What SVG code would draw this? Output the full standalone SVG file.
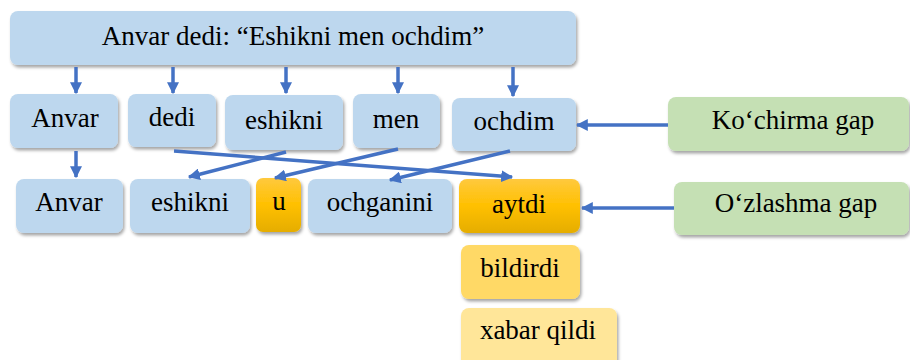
<svg xmlns="http://www.w3.org/2000/svg" width="910" height="360" viewBox="0 0 910 360" font-family="Liberation Serif, serif">
<style>
svg text, g text, text{font-family:"Liberation Serif","Times New Roman",serif !important;font-size:27px;text-anchor:middle;fill:#000}
.b{fill:#BDD7EE}
.g{fill:#C5E0B4}
.o{fill:url(#og)}
.y1{fill:#FFD966}
.y2{fill:#FFE699}
.n rect{filter:url(#sh)}
#connectors line{stroke:#4472C4;stroke-width:3.5;fill:none;marker-end:url(#ah)}
</style>
<defs>
<filter id="sh" x="-10%" y="-10%" width="130%" height="140%">
<feDropShadow dx="1.5" dy="2.5" stdDeviation="1.5" flood-color="#000" flood-opacity="0.35"/>
</filter>
<linearGradient id="og" x1="0" y1="0" x2="0" y2="1">
<stop offset="0" stop-color="#FFC93E"/>
<stop offset="0.5" stop-color="#FFC000"/>
<stop offset="1" stop-color="#E5AD00"/>
</linearGradient>
<marker id="ah" viewBox="0 0 10 10" refX="9" refY="5" markerWidth="12" markerHeight="12" markerUnits="userSpaceOnUse" orient="auto">
<path d="M0,0 L10,5 L0,10 z" fill="#4472C4"/>
</marker>
</defs>

<g class="n" id="top"><rect class="b" x="10" y="11" width="566" height="54" rx="8"/><text x="293" y="45" font-family="Liberation Serif, serif">Anvar dedi: “Eshikni men ochdim”</text></g>
<g class="n" id="r2-anvar"><rect class="b" x="10" y="94" width="108" height="54" rx="8"/><text x="65" y="127" font-family="Liberation Serif, serif">Anvar</text></g>
<g class="n" id="r2-dedi"><rect class="b" x="128" y="94" width="88" height="53" rx="8"/><text x="172" y="126" font-family="Liberation Serif, serif">dedi</text></g>
<g class="n" id="r2-eshikni"><rect class="b" x="225" y="95" width="118" height="55" rx="8"/><text x="284" y="129" font-family="Liberation Serif, serif">eshikni</text></g>
<g class="n" id="r2-men"><rect class="b" x="353" y="94" width="87" height="54" rx="8"/><text x="396" y="128" font-family="Liberation Serif, serif">men</text></g>
<g class="n" id="r2-ochdim"><rect class="b" x="452" y="98" width="124" height="53" rx="8"/><text x="514" y="130" font-family="Liberation Serif, serif">ochdim</text></g>
<g class="n" id="r3-anvar"><rect class="b" x="16" y="179" width="107" height="54" rx="8"/><text x="69" y="211" font-family="Liberation Serif, serif">Anvar</text></g>
<g class="n" id="r3-eshikni"><rect class="b" x="130" y="179" width="120" height="54" rx="8"/><text x="190" y="211" font-family="Liberation Serif, serif">eshikni</text></g>
<g class="n" id="r3-u"><rect class="o" x="256" y="178" width="45" height="54" rx="7"/><text x="279" y="210" font-family="Liberation Serif, serif">u</text></g>
<g class="n" id="r3-ochganini"><rect class="b" x="308" y="179" width="144" height="54" rx="8"/><text x="380" y="211" font-family="Liberation Serif, serif">ochganini</text></g>
<g class="n" id="r3-aytdi"><rect class="o" x="459" y="179" width="121" height="54" rx="8"/><text x="519" y="213" font-family="Liberation Serif, serif">aytdi</text></g>
<g class="n" id="bildirdi"><rect class="y1" x="461" y="245" width="119" height="54" rx="8"/><text x="520" y="277" font-family="Liberation Serif, serif">bildirdi</text></g>
<g class="n" id="xabar"><rect class="y2" x="461" y="308" width="156" height="60" rx="8"/><text x="538" y="339" font-family="Liberation Serif, serif">xabar qildi</text></g>
<g class="n" id="kochirma"><rect class="g" x="668" y="97" width="241" height="54" rx="8"/><text x="793" y="129" font-family="Liberation Serif, serif">Ko‘chirma gap</text></g>
<g class="n" id="ozlashma"><rect class="g" x="674" y="182" width="235" height="53" rx="8"/><text x="796" y="212" font-family="Liberation Serif, serif">O‘zlashma gap</text></g>

<g id="connectors">
<line x1="76" y1="67" x2="76" y2="93"/>
<line x1="173" y1="67" x2="173" y2="93"/>
<line x1="286" y1="67" x2="286" y2="93"/>
<line x1="398" y1="67" x2="398" y2="93"/>
<line x1="513" y1="67" x2="513" y2="96"/>
<line x1="76" y1="151" x2="76" y2="177"/>
<line x1="174" y1="151" x2="512" y2="177"/>
<line x1="286" y1="152" x2="189" y2="177"/>
<line x1="398" y1="149" x2="275" y2="178"/>
<line x1="510" y1="151" x2="390" y2="180"/>
<line x1="668" y1="125" x2="577" y2="125"/>
<line x1="674" y1="208" x2="582" y2="208"/>
</g>
</svg>
